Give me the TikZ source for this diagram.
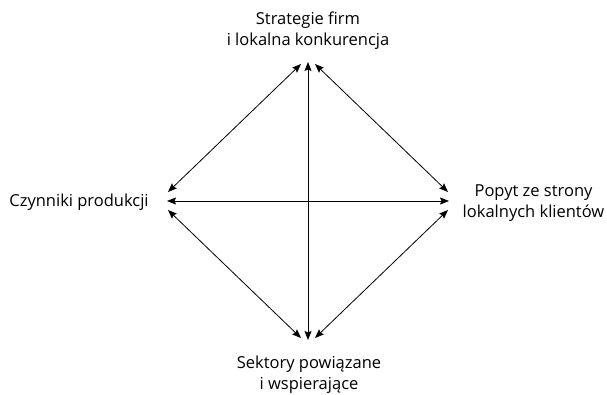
\documentclass[tikz,border=0pt]{standalone}
\usepackage{fontspec}
\setmainfont{Open Sans}
\usetikzlibrary{arrows.meta}
\begin{document}
\begin{tikzpicture}[x=1pt,y=-1pt,
  lbl/.style={font=\fontsize{16.5}{21}\selectfont, align=center, inner sep=0pt},
  link/.style={line width=0.8pt, {Stealth[length=9pt,width=7pt,inset=1.5pt]}-{Stealth[length=9pt,width=7pt,inset=1.5pt]}}]
\useasboundingbox (0,0) rectangle (607,395);
\node[lbl] (top) at (308,30.5) {Strategie firm\\i lokalna konkurencja};
\node[lbl] (left) at (79,202) {Czynniki produkcji};
\node[lbl] (right) at (533.5,203.5) {Popyt ze strony\\lokalnych klientów};
\node[lbl] (bottom) at (309,375) {Sektory powiązane\\i wspierające};
% arrow end points
\coordinate (tL) at (301,64);
\coordinate (tC) at (308,62);
\coordinate (tR) at (315,64);
\coordinate (lT) at (168,192);
\coordinate (lC) at (167,201);
\coordinate (lB) at (168,210);
\coordinate (rT) at (448,192);
\coordinate (rC) at (449,201);
\coordinate (rB) at (448,210);
\coordinate (bL) at (301,338);
\coordinate (bC) at (308,340);
\coordinate (bR) at (315,338);
\draw[link] (tL) -- (lT);
\draw[link] (tR) -- (rT);
\draw[link] (bL) -- (lB);
\draw[link] (bR) -- (rB);
\draw[link] (lC) -- (rC);
\draw[link] (tC) -- (bC);
\end{tikzpicture}
\end{document}
